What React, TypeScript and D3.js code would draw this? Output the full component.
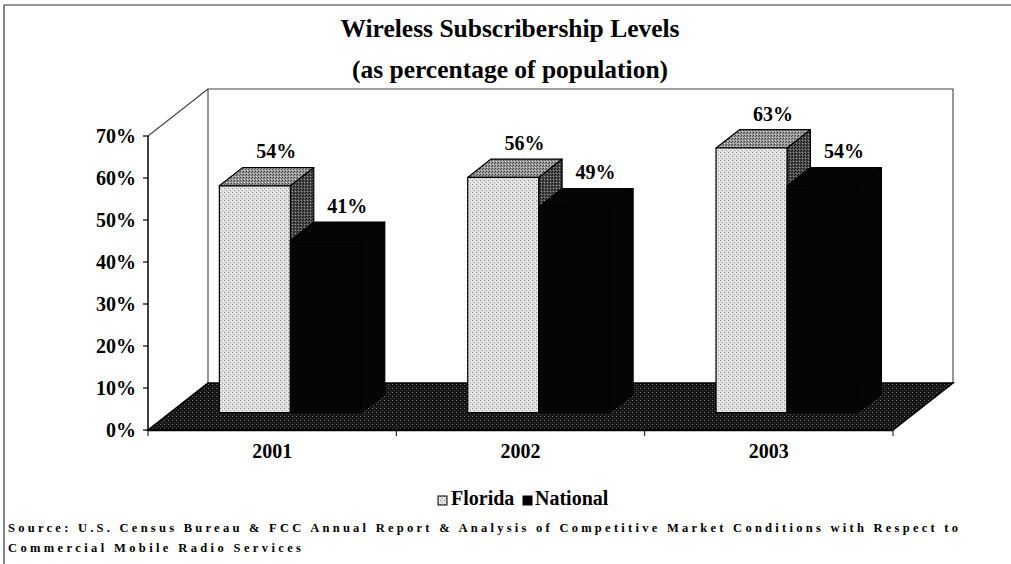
import React from "react";
import * as d3 from "d3";

const years = ["2001", "2002", "2003"];
const florida = [0.54, 0.56, 0.63];
const national = [0.41, 0.49, 0.54];
const seriesNames = ["Florida", "National"];
const yTicks = [0, 0.1, 0.2, 0.3, 0.4, 0.5, 0.6, 0.7];
const titleLines = ["Wireless Subscribership Levels", "(as percentage of population)"];
const sourceLines = [
  "Source: U.S. Census Bureau & FCC Annual Report & Analysis of Competitive Market Conditions with Respect to",
  "Commercial Mobile Radio Services",
];

const W = 1011;
const H = 564;
const X0 = 148;
const X1 = 893;
const DDX = 60;
const DDY = -47;
const T0 = 0.37;
const T1 = 0.76;
const BAR_SHIFT = -4;
const FONT = "'Liberation Serif', 'Times New Roman', serif";

export default function App() {
  const x = d3.scaleBand<string>().domain(years).range([X0, X1]);
  const y = d3.scaleLinear().domain([0, 0.7]).range([430, 136]);
  const s = d3.scaleBand<string>().domain(seriesNames).range([-71, 71]);
  const bw = x.bandwidth();

  const p = (xf: number, v: number, t: number): [number, number] => [xf + DDX * t, y(v) + DDY * t];
  const poly = (pts: [number, number][]) => pts.map((q) => q.join(",")).join(" ");

  const values: Record<string, number[]> = { Florida: florida, National: national };

  const bars: React.ReactNode[] = [];
  const labels: React.ReactNode[] = [];
  years.forEach((yr, i) => {
    const c = (x(yr) as number) + bw / 2 + BAR_SHIFT;
    seriesNames.forEach((sn) => {
      const v = values[sn][i];
      const xa = c + (s(sn) as number);
      const xb = xa + s.bandwidth();
      const front = poly([p(xa, 0, T0), p(xb, 0, T0), p(xb, v, T0), p(xa, v, T0)]);
      const top = poly([p(xa, v, T0), p(xb, v, T0), p(xb, v, T1), p(xa, v, T1)]);
      const side = poly([p(xb, 0, T0), p(xb, 0, T1), p(xb, v, T1), p(xb, v, T0)]);
      const isF = sn === "Florida";
      bars.push(
        <g key={yr + sn} stroke="#000" strokeWidth={1.2} strokeLinejoin="round">
          <polygon points={side} fill={isF ? "url(#sidePat)" : "#050505"} />
          <polygon points={top} fill={isF ? "url(#topPat)" : "#050505"} />
          <polygon points={front} fill={isF ? "url(#frontPat)" : "#050505"} />
        </g>
      );
      const [lx, ly] = p((xa + xb) / 2, v, T1);
      labels.push(
        <text key={"l" + yr + sn} x={lx - 2} y={ly - 9} textAnchor="middle" fontSize={20} fontWeight="bold" fontFamily={FONT}>
          {Math.round(v * 100) + "%"}
        </text>
      );
    });
  });

  const floor = poly([p(X0, 0, 0), p(X1, 0, 0), p(X1, 0, 1), p(X0, 0, 1)]);
  const [bl0x, bl0y] = p(X0, 0, 1);
  const [bl1x, bl1y] = p(X0, 0.7, 1);
  const [br1x, br1y] = p(X1, 0.7, 1);
  const [br0x, br0y] = p(X1, 0, 1);
  const [fl1x, fl1y] = p(X0, 0.7, 0);

  const tickBounds = years.map((yr) => x(yr) as number).concat([X1]);

  return (
    <svg width={W} height={H} style={{ position: "absolute", left: 0, top: 0, background: "#fff" }}>
      <defs>
        <pattern id="frontPat" width="4" height="4" patternUnits="userSpaceOnUse">
          <rect width="4" height="4" fill="#e0e0e0" />
          <rect x="0" y="0" width="1" height="1" fill="#858585" />
          <rect x="2" y="2" width="1" height="1" fill="#a0a0a0" />
          <rect x="3" y="1" width="1" height="1" fill="#f8f8f8" />
        </pattern>
        <pattern id="topPat" width="3" height="3" patternUnits="userSpaceOnUse">
          <rect width="3" height="3" fill="#9a9a9a" />
          <rect x="0" y="0" width="1" height="1" fill="#3a3a3a" />
          <rect x="2" y="1" width="1" height="1" fill="#555" />
          <rect x="1" y="2" width="1" height="1" fill="#cfcfcf" />
        </pattern>
        <pattern id="sidePat" width="3" height="3" patternUnits="userSpaceOnUse">
          <rect width="3" height="3" fill="#4a4a4a" />
          <rect x="0" y="0" width="1" height="1" fill="#111" />
          <rect x="2" y="1" width="1" height="1" fill="#1c1c1c" />
          <rect x="1" y="2" width="1" height="1" fill="#9a9a9a" />
        </pattern>
        <pattern id="floorPat" width="4" height="4" patternUnits="userSpaceOnUse">
          <rect width="4" height="4" fill="#161616" />
          <rect x="0" y="0" width="1" height="1" fill="#707070" />
          <rect x="2" y="2" width="1" height="1" fill="#4a4a4a" />
          <rect x="3" y="1" width="1" height="1" fill="#000" />
        </pattern>
      </defs>

      {/* outer frame */}
      <line x1={4} y1={5} x2={W} y2={5} stroke="#333" strokeWidth={1.2} />
      <line x1={4} y1={5} x2={4} y2={H} stroke="#333" strokeWidth={1.2} />

      {/* title */}
      {titleLines.map((t, i) => (
        <text key={t} x={510} y={37 + i * 41} textAnchor="middle" fontSize={25.5} fontWeight="bold" fontFamily={FONT}>
          {t}
        </text>
      ))}

      {/* walls */}
      <g stroke="#444" strokeWidth={1.1} fill="none">
        <polyline points={poly([[bl0x, bl0y], [bl1x, bl1y], [br1x, br1y], [br0x, br0y]])} />
        <line x1={fl1x} y1={fl1y} x2={bl1x} y2={bl1y} />
      </g>

      {/* floor */}
      <polygon points={floor} fill="url(#floorPat)" stroke="#000" strokeWidth={1.5} />
      <line x1={X0} y1={y(0)} x2={X1} y2={y(0)} stroke="#000" strokeWidth={2.5} />

      {/* y axis */}
      <line x1={X0} y1={y(0)} x2={X0} y2={y(0.7)} stroke="#000" strokeWidth={1.5} />
      {yTicks.map((t) => (
        <g key={t}>
          <line x1={X0 - 5} x2={X0} y1={y(t)} y2={y(t)} stroke="#000" strokeWidth={1.2} />
          <text x={136} y={y(t)} dy="0.35em" textAnchor="end" fontSize={20} fontWeight="bold" fontFamily={FONT}>
            {Math.round(t * 100) + "%"}
          </text>
        </g>
      ))}

      {/* x ticks & labels */}
      {tickBounds.map((tx) => (
        <line key={tx} x1={tx} x2={tx} y1={y(0)} y2={y(0) + 6} stroke="#000" strokeWidth={1} />
      ))}
      {years.map((yr) => (
        <text key={yr} x={(x(yr) as number) + bw / 2} y={458} textAnchor="middle" fontSize={20} fontWeight="bold" fontFamily={FONT}>
          {yr}
        </text>
      ))}

      {bars}
      {labels}

      {/* legend */}
      <rect x={438} y={496} width={9} height={9} fill="url(#frontPat)" stroke="#000" strokeWidth={1} />
      <text x={451} y={505} fontSize={20} fontWeight="bold" fontFamily={FONT}>Florida</text>
      <rect x={523} y={496} width={9} height={9} fill="#000" stroke="#000" strokeWidth={1} />
      <text x={535} y={505} fontSize={20} fontWeight="bold" fontFamily={FONT}>National</text>

      {/* source */}
      <text x={8} y={532} fontSize={12.5} fontWeight="bold" fontFamily={FONT} textLength={950} lengthAdjust="spacing">
        {sourceLines[0]}
      </text>
      <text x={8} y={552} fontSize={12.5} fontWeight="bold" fontFamily={FONT} textLength={293} lengthAdjust="spacing">
        {sourceLines[1]}
      </text>
    </svg>
  );
}
